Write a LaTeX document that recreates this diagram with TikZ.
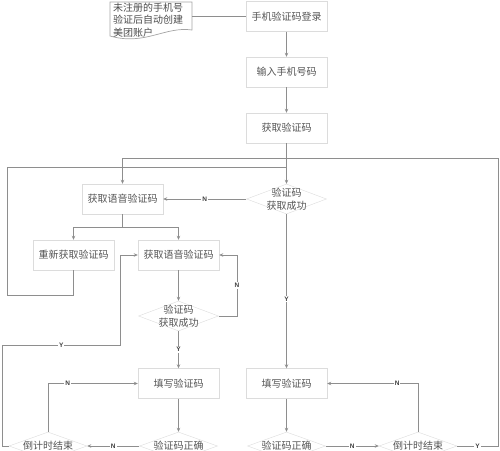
\documentclass[tikz,border=0pt]{standalone}
\usepackage{fontspec}
\newfontfamily\cjk{Noto Sans CJK SC}
\newfontfamily\labf{Liberation Sans}
\usetikzlibrary{shapes.geometric,arrows.meta}
\definecolor{linec}{HTML}{8E8E8E}
\definecolor{boxc}{HTML}{DCDCDC}
\definecolor{txtc}{HTML}{555555}
\begin{document}
\begin{tikzpicture}[x=1pt,y=-1pt,
  box/.style={draw=boxc, fill=white, minimum width=81pt, minimum height=30pt, inner sep=0pt, font=\cjk\fontsize{10}{12}\selectfont, text=txtc},
  dia/.style={diamond, draw=boxc, fill=white, minimum width=80pt, minimum height=30pt, inner sep=0pt},
  dtxt/.style={font=\cjk\fontsize{10}{12.5}\selectfont, text=txtc, align=center, inner sep=0pt},
  conn/.style={draw=linec, line width=0.8pt},
  arr/.style={conn, -{Stealth[length=4pt,width=3.5pt]}},
  lab/.style={font=\labf\bfseries\fontsize{6.5}{7}\selectfont, text=black!75, fill=white, inner sep=1pt},
]
\useasboundingbox (0,0) rectangle (500,450);
% note
\draw[draw=linec!80, fill=white, line width=0.7pt] (110,2) -- (192,2) -- (192,30) .. controls (165,26) and (145,46) .. (110,36) -- cycle;
\node[anchor=north west, align=left, inner sep=0pt, font=\cjk\fontsize{10}{12.5}\selectfont, text=black!70] (notetxt) at (113,2.5) {未注册的手机号\\验证后自动创建\\美团账户};
\coordinate (noteR) at (192,16.5);

% boxes
\node[box] (a) at (286.5,16.5) {手机验证码登录};
\node[box] (b) at (286.5,72) {输入手机号码};
\node[box] (c) at (286.5,128) {获取验证码};
\node[dia] (d1) at (286.5,199) {};
\node[dtxt] (d1t) at (d1) {验证码\\获取成功};
\node[box] (e1) at (122.5,199) {获取语音验证码};
\node[box] (r) at (73.5,255) {重新获取验证码};
\node[box] (e2) at (178.5,255) {获取语音验证码};
\node[dia] (d2) at (178.5,316) {};
\node[dtxt] (d2t) at (d2) {验证码\\获取成功};
\node[box] (f1) at (178.5,383.5) {填写验证码};
\node[box] (f2) at (286.5,383.5) {填写验证码};
\node[dia, minimum width=78pt, minimum height=28pt] (g1) at (178.5,446) {};
\node[dtxt] (g1t) at (g1) {验证码正确};
\node[dia, minimum width=78pt, minimum height=28pt] (g2) at (286.5,446) {};
\node[dtxt] (g2t) at (g2) {验证码正确};
\node[dia, minimum width=78pt, minimum height=28pt] (h1) at (48,446) {};
\node[dtxt] (h1t) at (h1) {倒计时结束};
\node[dia, minimum width=78pt, minimum height=28pt] (h2) at (418,446) {};
\node[dtxt] (h2t) at (h2) {倒计时结束};

% connectors
\draw[conn] (noteR) -- (a.west);
\draw[arr] (a) -- (b);
\draw[arr] (b) -- (c);
\draw[arr] (c) -- (d1.north);
\draw[arr] (d1.west) -- node[lab]{N} (e1.east);
\draw[arr] (d1.south) -- node[lab, pos=0.55]{Y} (f2.north);
\draw[arr] (e1.south) -- (122.5,227.5) -| (r.north);
\draw[arr] (122.5,227.5) -| (e2.north);
\draw[arr] (e2) -- (d2.north);
\draw[arr] (d2.east) -- (237,316) -- node[lab]{N} (237,255) -- (e2.east);
\draw[arr] (d2.south) -- node[lab]{Y} (f1.north);
\draw[arr] (f1) -- (g1.north);
\draw[arr] (f2) -- (g2.north);
\draw[arr] (g1.west) -- node[lab]{N} (h1.east);
\draw[arr] (g2.east) -- node[lab]{N} (h2.west);
\draw[arr] (h1.north) -- (48,383.5) -- node[lab, pos=0.22]{N} (f1.west);
\draw[arr] (h2.north) -- (418,383.5) -- node[lab, pos=0.23]{N} (f2.east);
\draw[arr] (h2.east) -- node[lab]{Y} (498,446) -- (498,158) -- (122.5,158) -- (e1.north);
\draw[arr] (h1.west) -- (2.5,446) -- (2.5,345) -- node[lab]{Y} (120,345) -- (120,255) -- (e2.west);
\draw[conn] (r.south) -- (73.5,295) -- (7,295) -- (7,167) -- (286.5,167);
\end{tikzpicture}
\end{document}
